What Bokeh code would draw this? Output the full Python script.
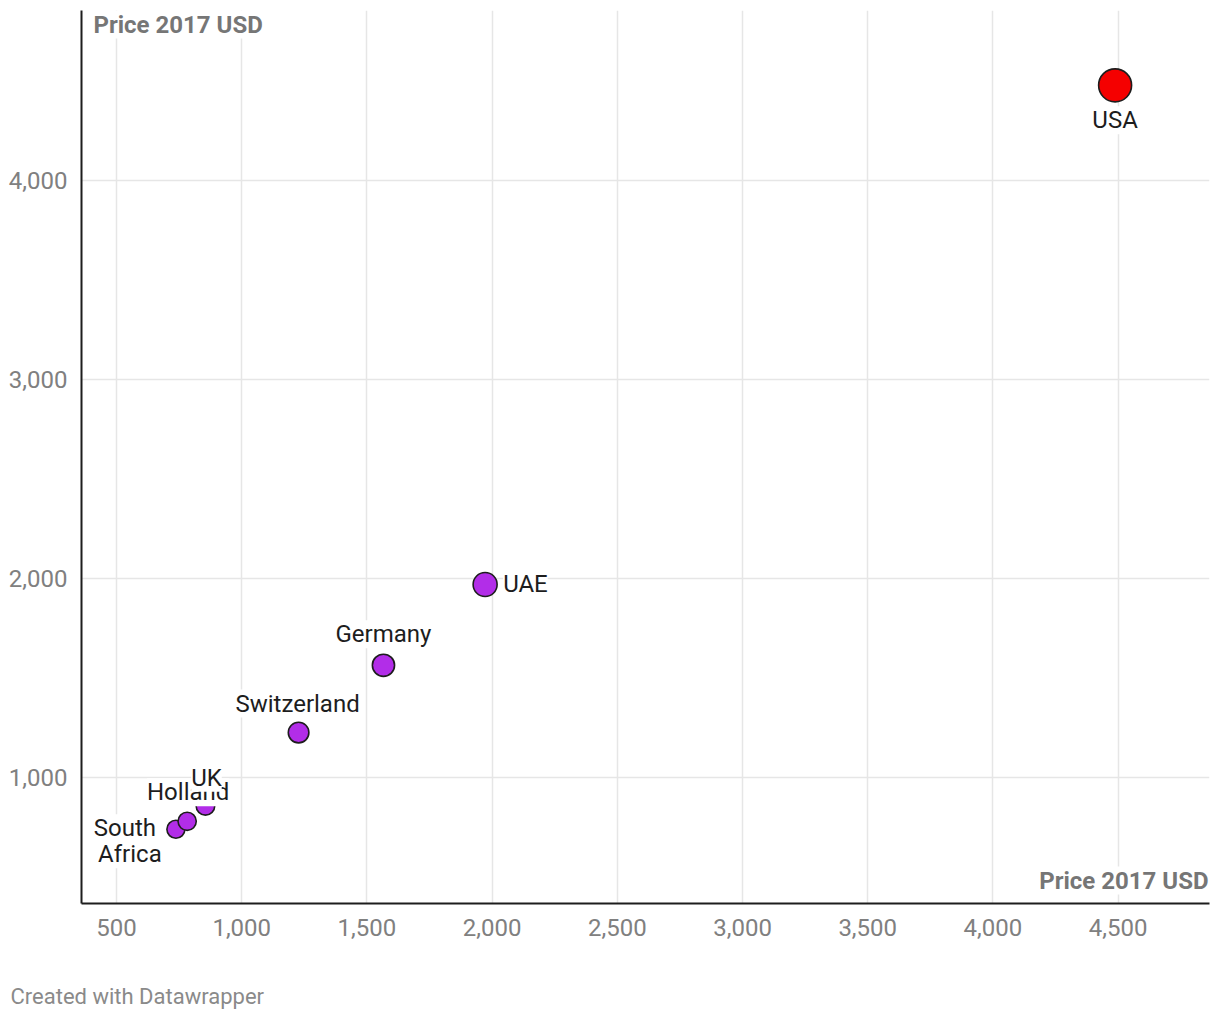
from bokeh.plotting import figure
from bokeh.models import Label, Range1d, SingleIntervalTicker, NumeralTickFormatter, Title
from bokeh.embed import file_html
from bokeh.resources import INLINE

# ---- data ----
countries = ["South Africa", "Holland", "UK", "Switzerland", "Germany", "UAE", "USA"]
price_x = [737, 782, 855, 1227, 1566, 1972, 4488]
price_y = [740, 780, 858, 1226, 1564, 1970, 4478]
label_text = ["South\nAfrica", "Holland", "UK", "Switzerland", "Germany", "UAE", "USA"]
highlight = "USA"
x_title = "Price 2017 USD"
y_title = "Price 2017 USD"
credit = "Created with Datawrapper"

# ---- styles ----
FONT = "Roboto"
PURPLE = "#b22de8"
RED = "#f50000"
colors = [RED if c == highlight else PURPLE for c in countries]
# bubble area grows with price
sizes = [(173 + 0.2044 * v) ** 0.5 for v in price_y]

# label placement per country: one (x_offset, y_offset) per text line
placement = {
    "South Africa": dict(lines=[(-51, 1), (-46, -25)], text_align="center"),
    "Holland": dict(lines=[(1, 29)], text_align="center"),
    "UK": dict(lines=[(1, 28)], text_align="center"),
    "Switzerland": dict(lines=[(-1, 29)], text_align="center"),
    "Germany": dict(lines=[(0, 31)], text_align="center"),
    "UAE": dict(lines=[(18, 0)], text_align="left"),
    "USA": dict(lines=[(0, -35)], text_align="center"),
}

X0, X1 = 360, 4865
Y0, Y1 = 367, 4854

p = figure(width=1212, height=1013, output_backend="svg", toolbar_location=None,
           x_range=Range1d(X0, X1), y_range=Range1d(Y0, Y1),
           min_border_left=81, min_border_top=10, min_border_right=3, min_border_bottom=110)
p.outline_line_color = None
p.background_fill_color = "white"
p.border_fill_color = "white"

for ax, interval in ((p.xaxis[0], 500), (p.yaxis[0], 1000)):
    ax.ticker = SingleIntervalTicker(interval=interval)
    ax.formatter = NumeralTickFormatter(format="0,0")
    ax.major_tick_line_color = None
    ax.minor_tick_line_color = None
    ax.major_tick_in = 0
    ax.major_tick_out = 0
    ax.axis_line_color = "#1d1d1d"
    ax.axis_line_width = 2
    ax.major_label_text_font = FONT
    ax.major_label_text_font_size = "24px"
    ax.major_label_text_color = "#808080"
p.xaxis[0].major_label_standoff = 11
p.yaxis[0].major_label_standoff = 10

p.xgrid.ticker = SingleIntervalTicker(interval=500)
p.ygrid.ticker = SingleIntervalTicker(interval=1000)
p.grid.grid_line_color = "#e6e6e6"
p.grid.grid_line_width = 1.5

p.scatter(price_x, price_y, size=sizes, fill_color=colors, line_color="#1d1d1d",
          line_width=1.6, marker="circle")

for name, x, y, t in zip(countries, price_x, price_y, label_text):
    pl = placement[name]
    for line, (dx, dy) in zip(t.split("\n"), pl["lines"]):
        p.add_layout(Label(x=x, y=y, text=line, x_offset=dx, y_offset=dy,
                           text_align=pl["text_align"], text_baseline="middle",
                           text_font=FONT, text_font_size="24px", text_color="#1d1d1d",
                           background_fill_color="white"))

p.add_layout(Label(x=X0, y=Y1, text=y_title, x_offset=12, y_offset=-14,
                   text_align="left", text_baseline="middle", text_font=FONT,
                   text_font_size="24px", text_font_style="bold", text_color="#767676",
                   background_fill_color="white"))
p.add_layout(Label(x=X1, y=Y0, text=x_title, x_offset=-1, y_offset=23,
                   text_align="right", text_baseline="middle", text_font=FONT,
                   text_font_size="24px", text_font_style="bold", text_color="#767676",
                   background_fill_color="white"))
# empty spacer between the axis and the credit line
p.add_layout(Title(text=" ", standoff=0, text_font=FONT, text_font_size="36px"), "below")
p.add_layout(Title(text=credit, align="left", offset=-71, standoff=0, vertical_align="middle",
                   text_font=FONT, text_font_size="22px", text_font_style="normal",
                   text_color="#8a8a8a"), "below")

open("out.html", "w").write(file_html(p, INLINE))
